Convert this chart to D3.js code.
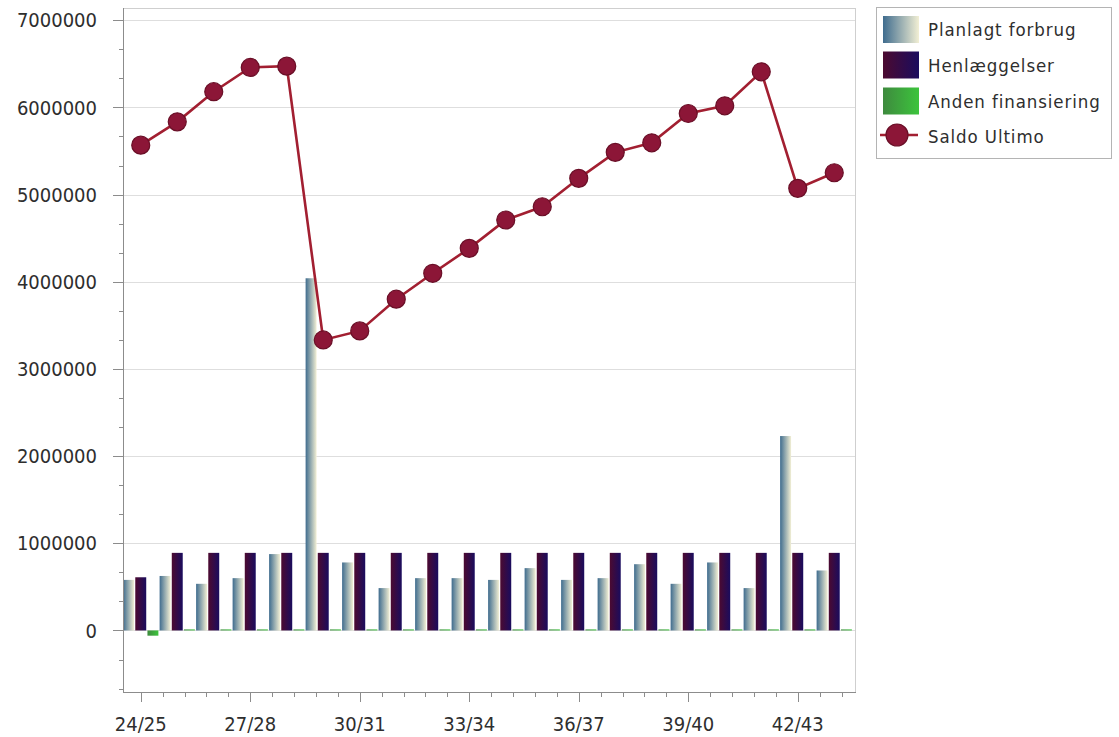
<!DOCTYPE html>
<html>
<head>
<meta charset="utf-8">
<script src="https://cdn.jsdelivr.net/npm/d3@7"></script>
<style>
html,body{margin:0;padding:0;background:#fff;}
svg{display:block;}
text{font-family:"DejaVu Sans Condensed","DejaVu Sans","Liberation Sans",sans-serif;fill:#2e2e2e;}
</style>
</head>
<body>
<svg id="chart" width="1119" height="737"></svg>
<script>
const categories = ["24/25","25/26","26/27","27/28","28/29","29/30","30/31","31/32","32/33","33/34",
  "34/35","35/36","36/37","37/38","38/39","39/40","40/41","41/42","42/43","43/44"];
const planlagt = [580000,625000,535000,600000,876000,4040000,780000,486000,600000,600000,
  580000,715000,580000,600000,760000,535000,780000,486000,2230000,688000];
const henlaeggelser = [610000,890000,890000,890000,890000,890000,890000,890000,890000,890000,
  890000,890000,890000,890000,890000,890000,890000,890000,890000,890000];
const andenFinansiering = [-60000,12000,12000,12000,12000,12000,12000,12000,12000,12000,
  12000,12000,12000,12000,12000,12000,12000,12000,12000,12000];
const saldoUltimo = [5567000,5834000,6180000,6458000,6473000,3332000,3436000,3800000,4097000,4383000,
  4708000,4860000,5186000,5484000,5594000,5930000,6018000,6408000,5071000,5250000];
const seriesNames = ["Planlagt forbrug","Henlæggelser","Anden finansiering","Saldo Ultimo"];
const yTicks = [0,1000000,2000000,3000000,4000000,5000000,6000000,7000000];
const xTickLabels = ["24/25","27/28","30/31","33/34","36/37","39/40","42/43"];

const svg = d3.select("#chart");
const L = 123, R = 855, T = 8, B = 692;

const x = d3.scaleBand().domain(categories).range([122.5, 852.5]).padding(0);
const xInner = d3.scaleBand().domain([0,1,2]).range([0, x.bandwidth()]).paddingInner(0.1).paddingOuter(0.05);
const y = d3.scaleLinear().domain([-706000, 7140000]).range([B, T]);

// gradients
const defs = svg.append("defs");
function grad(id, c1, c2){
  const g = defs.append("linearGradient").attr("id", id).attr("x1","0%").attr("x2","100%").attr("y1","0%").attr("y2","0%");
  g.append("stop").attr("offset","0%").attr("stop-color", c1);
  g.append("stop").attr("offset","100%").attr("stop-color", c2);
}
grad("gPlan", "#3f6c8e", "#f2efd4");
grad("gHenl", "#4c0a30", "#1a0c5e");
grad("gAnden", "#3e8a3e", "#3cc43c");
const fills = ["url(#gPlan)","url(#gHenl)","url(#gAnden)"];

// gridlines
svg.append("g").selectAll("line").data(yTicks).join("line")
  .attr("x1", L).attr("x2", R)
  .attr("y1", d => Math.round(y(d)) + 0.5).attr("y2", d => Math.round(y(d)) + 0.5)
  .attr("stroke", "#dedede").attr("stroke-width", 1);

// frame top and right
svg.append("line").attr("x1", L).attr("x2", R + 0.5).attr("y1", T + 0.5).attr("y2", T + 0.5).attr("stroke", "#cfcfcf");
svg.append("line").attr("x1", R + 0.5).attr("x2", R + 0.5).attr("y1", T).attr("y2", B).attr("stroke", "#cfcfcf");

// bars
const barData = [planlagt, henlaeggelser, andenFinansiering];
barData.forEach((arr, si) => {
  svg.append("g").selectAll("rect").data(arr).join("rect")
    .attr("x", (d, i) => x(categories[i]) + xInner(si))
    .attr("width", xInner.bandwidth())
    .attr("y", d => y(Math.max(0, d)))
    .attr("height", d => Math.max(1, Math.abs(y(d) - y(0))))
    .attr("fill", fills[si]);
});

// y axis
const yAxis = svg.append("g");
yAxis.append("line").attr("x1", L + 0.5).attr("x2", L + 0.5).attr("y1", T).attr("y2", B).attr("stroke", "#8c8c8c");
const minorY = [];
for (let v = -666667; v < 7140000; v += 1000000/3) { minorY.push(v); }
yAxis.selectAll(".minor").data(minorY).join("line").attr("class","minor")
  .attr("x1", L - 4).attr("x2", L)
  .attr("y1", d => Math.round(y(d)) + 0.5).attr("y2", d => Math.round(y(d)) + 0.5)
  .attr("stroke", "#8c8c8c");
yAxis.selectAll(".major").data(yTicks).join("line").attr("class","major")
  .attr("x1", L - 10).attr("x2", L)
  .attr("y1", d => Math.round(y(d)) + 0.5).attr("y2", d => Math.round(y(d)) + 0.5)
  .attr("stroke", "#8c8c8c");
yAxis.selectAll("text").data(yTicks).join("text")
  .attr("x", 97).attr("y", d => y(d)).attr("dy", "0.36em")
  .attr("text-anchor", "end").attr("font-size", 20)
  .text(d => String(d));

// x axis
const xAxis = svg.append("g");
xAxis.append("line").attr("x1", L).attr("x2", R + 1).attr("y1", B + 0.5).attr("y2", B + 0.5).attr("stroke", "#8c8c8c");
const majorX = xTickLabels.map(c => x(c) + x.bandwidth() / 2);
const step = x.step() * 3 / 5;
const minorX = [];
for (let p = majorX[0] + step; p < R; p += step) { minorX.push(p); }
xAxis.selectAll(".minor").data(minorX).join("line").attr("class","minor")
  .attr("x1", d => Math.round(d) + 0.5).attr("x2", d => Math.round(d) + 0.5)
  .attr("y1", B).attr("y2", B + 5).attr("stroke", "#8c8c8c");
xAxis.selectAll(".major").data(xTickLabels).join("line").attr("class","major")
  .attr("x1", d => Math.round(x(d) + x.bandwidth()/2) + 0.5).attr("x2", d => Math.round(x(d) + x.bandwidth()/2) + 0.5)
  .attr("y1", B).attr("y2", B + 10).attr("stroke", "#8c8c8c");
xAxis.selectAll("text").data(xTickLabels).join("text")
  .attr("x", d => x(d) + x.bandwidth()/2).attr("y", 731)
  .attr("text-anchor", "middle").attr("font-size", 20)
  .text(d => d);

// line
const line = d3.line().x((d, i) => x(categories[i]) + x.bandwidth()/2).y(d => y(d));
svg.append("path").datum(saldoUltimo).attr("d", line)
  .attr("fill", "none").attr("stroke", "#a21f31").attr("stroke-width", 2.6);
svg.append("g").selectAll("circle").data(saldoUltimo).join("circle")
  .attr("cx", (d, i) => x(categories[i]) + x.bandwidth()/2)
  .attr("cy", d => y(d)).attr("r", 9)
  .attr("fill", "#8c1637").attr("stroke", "#6a0f27").attr("stroke-width", 1.2);

// legend
const lg = svg.append("g");
lg.append("rect").attr("x", 876.5).attr("y", 7.5).attr("width", 235).attr("height", 151)
  .attr("fill", "#fff").attr("stroke", "#b4b4b4");
const legY = [16, 51.5, 87.5];
[0,1,2].forEach(i => {
  lg.append("rect").attr("x", 883).attr("y", legY[i]).attr("width", 36).attr("height", 27).attr("fill", fills[i]);
});
lg.append("line").attr("x1", 880).attr("x2", 918).attr("y1", 135).attr("y2", 135).attr("stroke", "#a21f31").attr("stroke-width", 2.6);
lg.append("circle").attr("cx", 897).attr("cy", 135).attr("r", 11).attr("fill", "#8c1637").attr("stroke", "#6a0f27").attr("stroke-width", 1.2);
const legTextY = [36, 72, 108, 143];
seriesNames.forEach((n, i) => {
  lg.append("text").attr("x", 928).attr("y", legTextY[i]).attr("font-size", 18.5)
    .attr("letter-spacing", "0.9px").text(n);
});
</script>
</body>
</html>
